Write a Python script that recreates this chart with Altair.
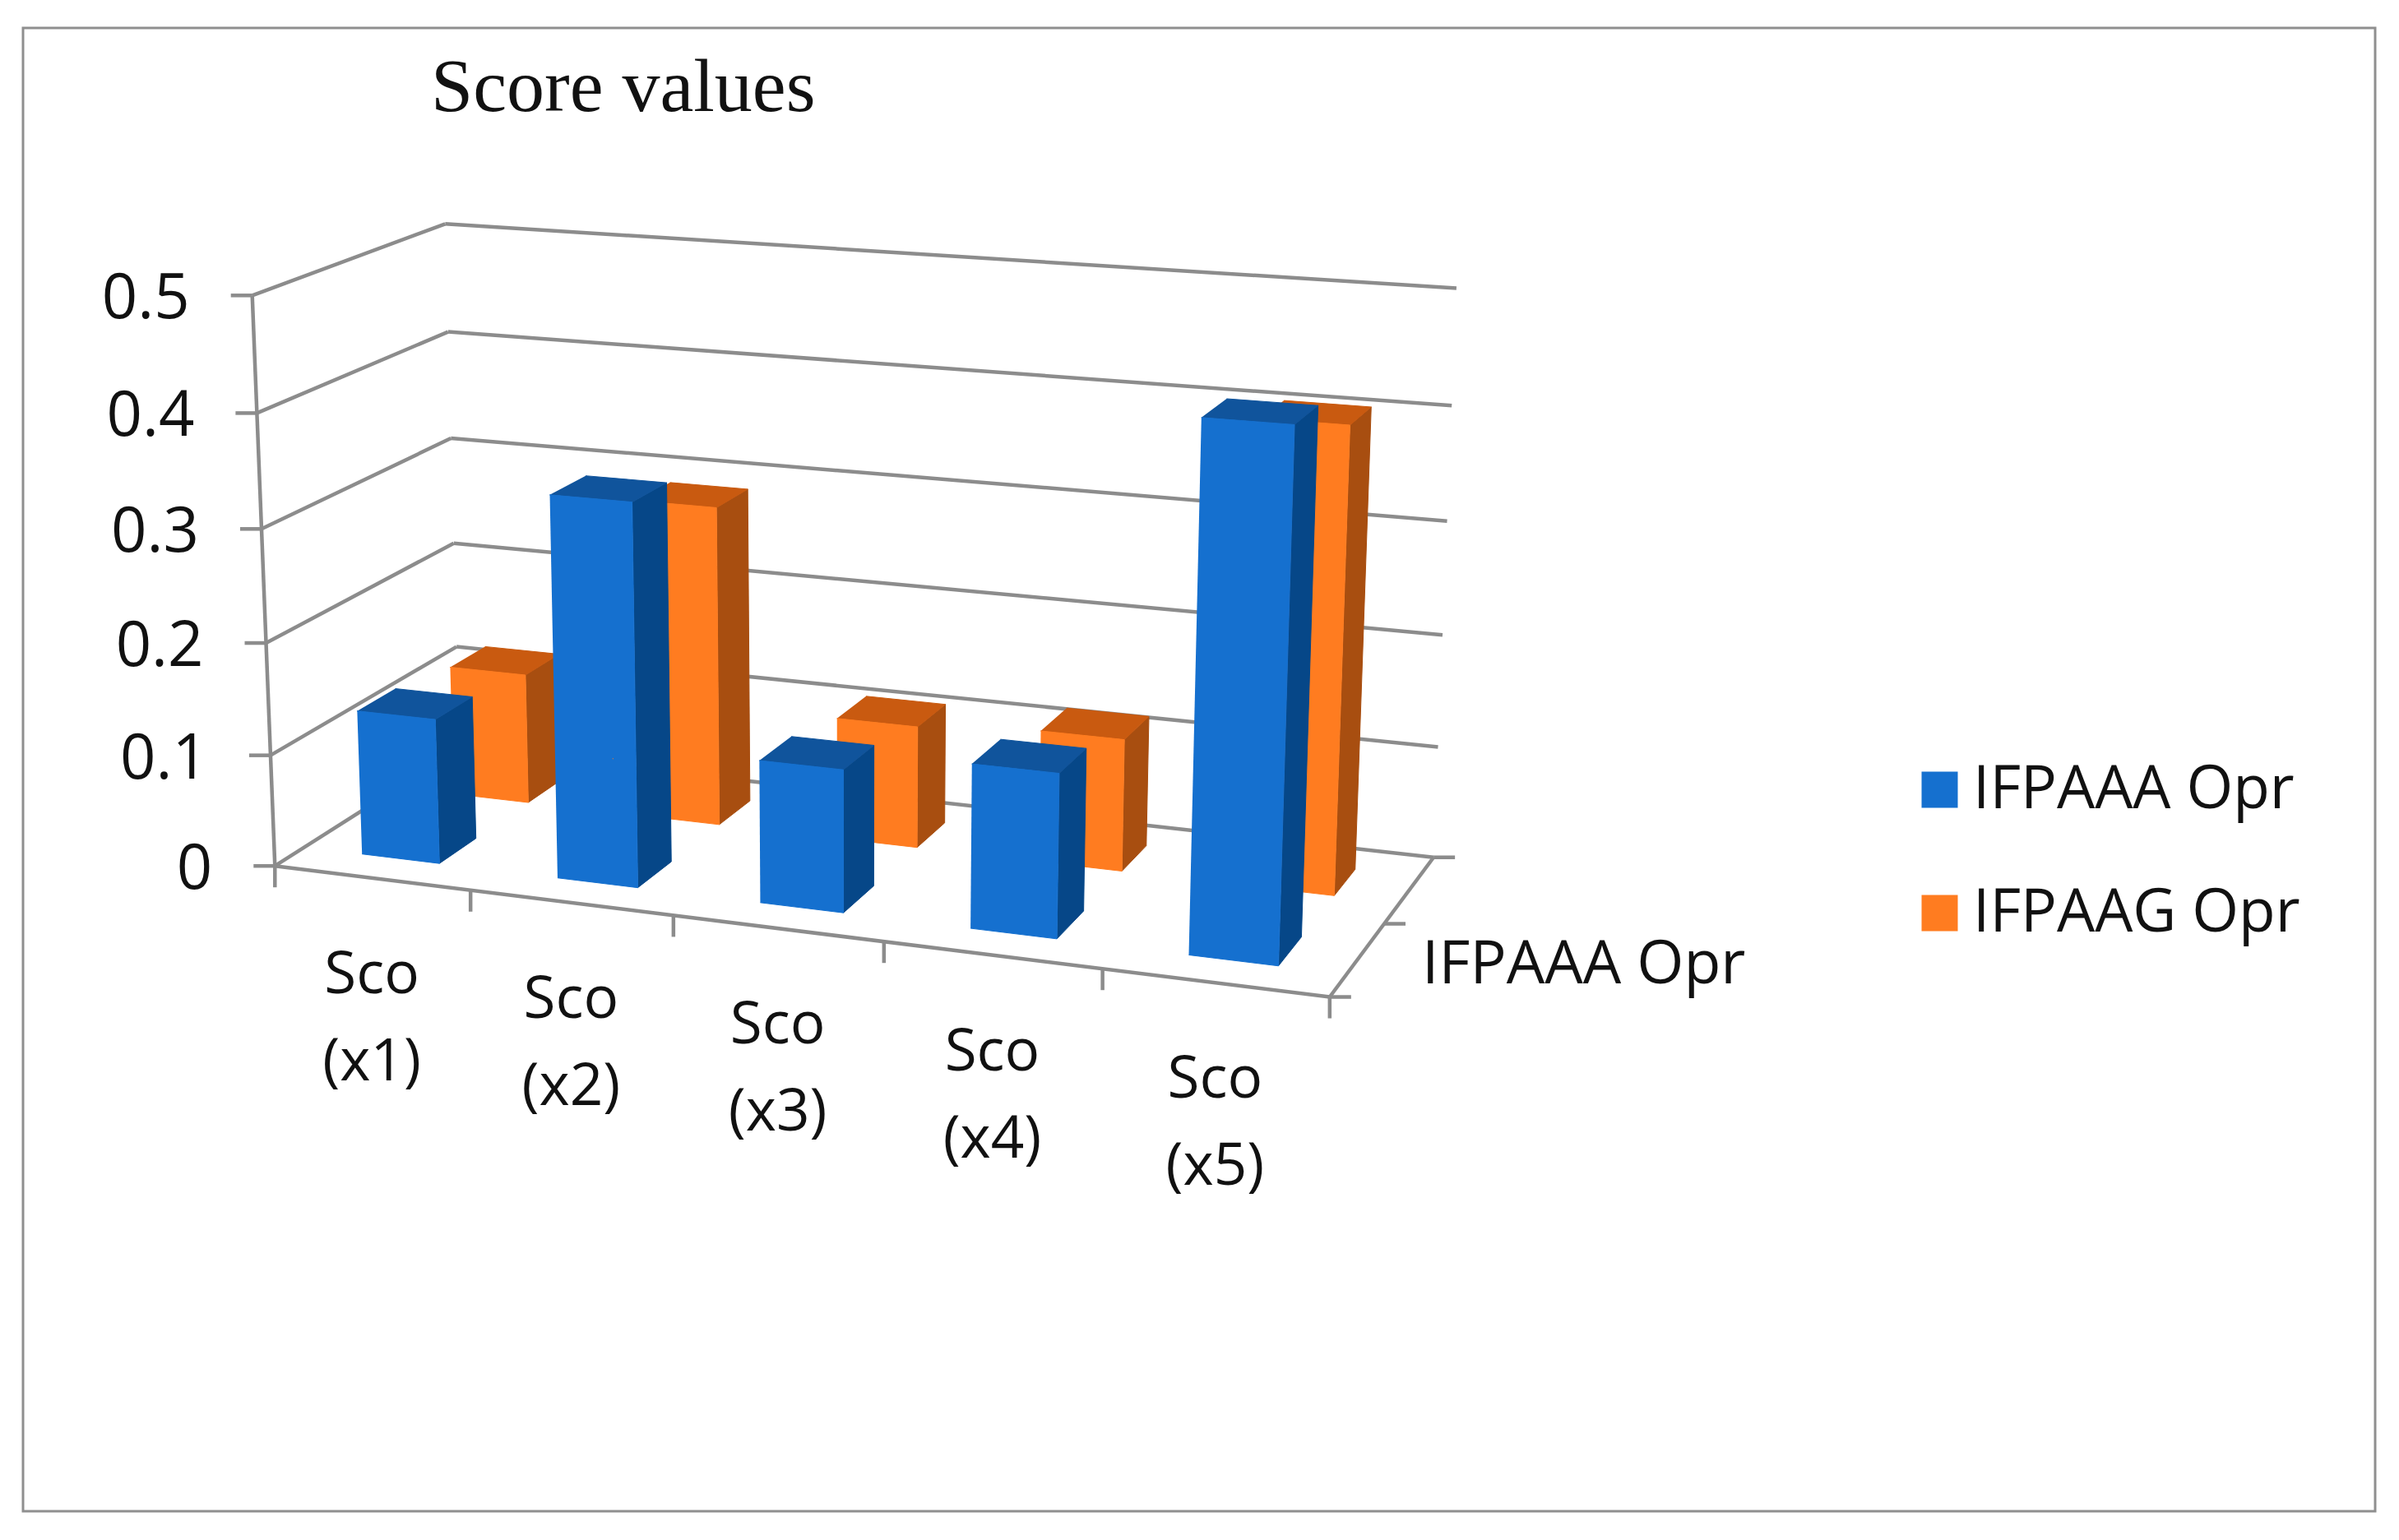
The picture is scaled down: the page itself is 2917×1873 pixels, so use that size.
import numpy as np
import pandas as pd
import altair as alt

# ---- data
categories = ["Sco\n(x1)", "Sco\n(x2)", "Sco\n(x3)", "Sco\n(x4)", "Sco\n(x5)"]
series_names = ["IFPAAA Opr", "IFPAAG Opr"]
ifpaaa = [0.13, 0.337, 0.125, 0.142, 0.445]
ifpaag = [0.12, 0.29, 0.11, 0.118, 0.406]
y_ticks = [0, 0.1, 0.2, 0.3, 0.4, 0.5]
y_tick_labels = ["0", "0.1", "0.2", "0.3", "0.4", "0.5"]
depth_label = "IFPAAA Opr"
title_text = "Score values"

front_colors = ["#1570cf", "#ff7c20"]
side_colors = ["#064788", "#a84e10"]
top_colors = ["#10549c", "#c95a10"]
grid_color = "#8c8c8c"
label_font = "Open Sans"

# ---- camera of the 3D box: (category, depth, value) -> picture position
anchors = [
    ((0, 0, 0), (335, 1054)), ((0, 0, 0.5), (306, 359)),
    ((0, 0, 0.4), (314, 501)), ((0, 0, 0.3), (318, 642)),
    ((0, 0, 0.2), (324, 781)), ((0, 0, 0.1), (329, 917)),
    ((0, 1, 0), (558, 908)), ((0, 1, 0.5), (540, 273)),
    ((0, 1, 0.4), (545, 404)), ((0, 1, 0.3), (548, 534)),
    ((0, 1, 0.2), (552, 662)), ((0, 1, 0.1), (555, 787)),
    ((5, 1, 0), (1742, 1041)), ((5, 1, 0.5), (1771, 350)),
    ((5, 1, 0.4), (1765, 495)), ((5, 1, 0.3), (1759, 634)),
    ((5, 1, 0.2), (1755, 771)), ((5, 1, 0.1), (1751, 909)),
    ((5, 0, 0), (1616, 1210)),
    ((1, 0, 0), (571, 1085)), ((2, 0, 0), (820, 1115)),
    ((3, 0, 0), (1075, 1147)), ((4, 0, 0), (1339, 1180)),
]
rows = []
rhs = []
for (u, d, v), (px, py) in anchors:
    rows.append([u, d, v, 1, 0, 0, 0, 0, -px * u, -px * d, -px * v])
    rhs.append(px)
    rows.append([0, 0, 0, 0, u, d, v, 1, -py * u, -py * d, -py * v])
    rhs.append(py)
sol = np.linalg.lstsq(np.array(rows, float), np.array(rhs, float), rcond=None)[0]
M = np.append(sol, 1.0).reshape(3, 4)


def proj(u, d, v):
    x, y, w = M @ np.array([u, d, v, 1.0])
    return float(x / w), float(y / w)


X = alt.Scale(domain=[8, 2909], range=[0, 2901], nice=False, zero=False)
Y = alt.Scale(domain=[8, 1865], range=[0, 1857], nice=False, zero=False)
x_enc = alt.X("x:Q", scale=X, axis=None)
y_enc = alt.Y("y:Q", scale=Y, axis=None)


def polygon(points, fill):
    df = pd.DataFrame([{"x": p[0], "y": p[1], "i": k} for k, p in enumerate(points)])
    return alt.Chart(df).mark_line(fill=fill, stroke=fill, strokeWidth=1).encode(
        x=x_enc, y=y_enc, order="i:Q"
    )


def segment(a, b, width=4.5, color=grid_color):
    df = pd.DataFrame([{"x": a[0], "y": a[1], "i": 0}, {"x": b[0], "y": b[1], "i": 1}])
    return alt.Chart(df).mark_line(stroke=color, strokeWidth=width).encode(
        x=x_enc, y=y_enc, order="i:Q"
    )


layers = []

# frame
frame = pd.DataFrame([{"x": 28, "x2": 2888, "y": 34, "y2": 1838}])
layers.append(
    alt.Chart(frame).mark_rect(fill="white", stroke="#8f8f8f", strokeWidth=3).encode(
        x=x_enc, x2="x2:Q", y=y_enc, y2="y2:Q"
    )
)

# gridlines, walls and ticks
for v in y_ticks:
    layers.append(segment(proj(0, 0, v), proj(0, 1, v)))
    if v > 0:
        layers.append(segment(proj(0, 1, v), proj(5, 1, v)))
    fx, fy = proj(0, 0, v)
    layers.append(segment((fx - 26, fy), (fx, fy)))
layers.append(segment(proj(0, 0, 0), proj(0, 0, 0.5)))
layers.append(segment(proj(0, 0, 0), proj(5, 0, 0)))
layers.append(segment(proj(0, 1, 0), proj(5, 1, 0)))
layers.append(segment(proj(5, 0, 0), proj(5, 1, 0)))
for i in range(6):
    fx, fy = proj(i, 0, 0)
    layers.append(segment((fx, fy), (fx, fy + 26)))
for d in (0, 0.5, 1):
    fx, fy = proj(5, d, 0)
    layers.append(segment((fx, fy), (fx + 26, fy)))

# bars: back series first, left to right
U0, U1 = 0.30, 0.70
DEPTHS = [(0.15, 0.35), (0.65, 0.85)]
for s, vals in [(1, ifpaag), (0, ifpaaa)]:
    d0, d1 = DEPTHS[s]
    for i, v in enumerate(vals):
        a, b = i + U0, i + U1
        layers.append(polygon([proj(b, d0, 0), proj(b, d1, 0), proj(b, d1, v), proj(b, d0, v)], side_colors[s]))
        layers.append(polygon([proj(a, d0, v), proj(b, d0, v), proj(b, d1, v), proj(a, d1, v)], top_colors[s]))
        layers.append(polygon([proj(a, d0, 0), proj(b, d0, 0), proj(b, d0, v), proj(a, d0, v)], front_colors[s]))

# text
tick_df = pd.DataFrame(
    [{"x": proj(0, 0, v)[0] - 76, "y": proj(0, 0, v)[1] + 5, "t": t} for v, t in zip(y_ticks, y_tick_labels)]
)
layers.append(
    alt.Chart(tick_df).mark_text(align="right", baseline="middle", font=label_font, fontSize=76, color="#111111").encode(
        x=x_enc, y=y_enc, text="t:N"
    )
)
cat_df = pd.DataFrame(
    [{"x": proj(i + 0.5, 0, 0)[0], "y": proj(i + 0.5, 0, 0)[1] + 84, "t": c} for i, c in enumerate(categories)]
)
layers.append(
    alt.Chart(cat_df).mark_text(
        align="center", baseline="top", font=label_font, fontSize=71, lineHeight=106, lineBreak="\n", color="#111111"
    ).encode(x=x_enc, y=y_enc, text="t:N")
)
dx_, dy_ = proj(5, 0.5, 0)
depth_df = pd.DataFrame([{"x": dx_ + 46, "y": dy_ + 50, "t": depth_label}])
layers.append(
    alt.Chart(depth_df).mark_text(align="left", baseline="middle", font=label_font, fontSize=73.5, color="#111111").encode(
        x=x_enc, y=y_enc, text="t:N"
    )
)

# legend
leg_df = pd.DataFrame({"x": [proj(1.5, 0.25, 0.1)[0]] * 2, "y": [proj(1.5, 0.25, 0.1)[1]] * 2, "series": series_names})
layers.append(
    alt.Chart(leg_df).mark_point(filled=True, shape="square", size=1, opacity=1).encode(
        x=x_enc,
        y=y_enc,
        color=alt.Color(
            "series:N",
            scale=alt.Scale(domain=series_names, range=front_colors),
            legend=alt.Legend(
                orient="none", legendX=2314, legendY=916, title=None,
                symbolType="square", symbolSize=1936, symbolOpacity=1, symbolStrokeWidth=0,
                labelFont=label_font, labelFontSize=73, labelColor="#111111", labelLimit=600,
                labelOffset=4, rowPadding=76,
            ),
        ),
    )
)

chart = alt.layer(*layers).properties(
    width=2901,
    height=1857,
    padding=0,
    autosize=alt.AutoSizeParams(type="none"),
    background="white",
    title=alt.TitleParams(
        text=title_text, font="Liberation Serif", fontSize=92, fontWeight="normal", color="#111111",
        anchor="start", dx=516, dy=219, baseline="alphabetic", offset=0,
    ),
).configure_view(stroke=None)

chart.save("out.html", embed_options={"renderer": "svg", "actions": False})
